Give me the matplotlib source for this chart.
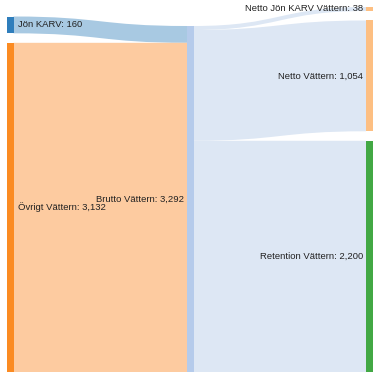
import matplotlib
matplotlib.use("Agg")
import matplotlib.pyplot as plt
from matplotlib.path import Path
from matplotlib.patches import PathPatch, Rectangle

plt.rcParams['font.family'] = ['Liberation Sans', 'DejaVu Sans']

# nodes per column
left_nodes = ["Jön KARV", "Övrigt Vättern"]
mid_nodes = ["Brutto Vättern"]
right_nodes = ["Netto Jön KARV Vättern", "Netto Vättern", "Retention Vättern"]

# flows (source, target, value)
link_src = ["Jön KARV", "Övrigt Vättern", "Brutto Vättern", "Brutto Vättern", "Brutto Vättern"]
link_dst = ["Brutto Vättern", "Brutto Vättern", "Netto Jön KARV Vättern", "Netto Vättern", "Retention Vättern"]
link_val = [160, 3132, 38, 1054, 2200]

node_color = {
    "Jön KARV": "#2f7ebc",
    "Övrigt Vättern": "#fb8b22",
    "Brutto Vättern": "#b5cbeb",
    "Netto Jön KARV Vättern": "#fdbf82",
    "Netto Vättern": "#fdbf82",
    "Retention Vättern": "#42a844",
}
link_color = {
    "Jön KARV": "#a8c9e2",
    "Övrigt Vättern": "#fdcba0",
    "Brutto Vättern": "#dde7f4",
}

W = H = 380
fig = plt.figure(figsize=(3.8, 3.8), dpi=100)
ax = fig.add_axes([0, 0, 1, 1])
ax.set_xlim(0, W)
ax.set_ylim(H, 0)
ax.axis("off")

# node values = max(in, out)
vin, vout = {}, {}
for s, d, v in zip(link_src, link_dst, link_val):
    vout[s] = vout.get(s, 0) + v
    vin[d] = vin.get(d, 0) + v
def nval(n):
    return max(vin.get(n, 0), vout.get(n, 0))

bottom = 372
k = 346 / nval("Brutto Vättern")
gap = 9.5
nw = 6.5
cols = [(left_nodes, 7), (mid_nodes, 187), (right_nodes, 366)]

pos = {}
for nodes, x in cols:
    total = sum(nval(n) for n in nodes) * k + gap * (len(nodes) - 1)
    y = bottom - total
    for n in nodes:
        h = nval(n) * k
        pos[n] = (x, y, h)
        y += h + gap

# links
out_off = {n: 0.0 for n in pos}
in_off = {n: 0.0 for n in pos}
for s, d, v in zip(link_src, link_dst, link_val):
    sx, sy, _ = pos[s]
    dx, dy, _ = pos[d]
    h = v * k
    x0 = sx + nw
    x1 = dx
    y0 = sy + out_off[s]
    y1 = dy + in_off[d]
    out_off[s] += h
    in_off[d] += h
    xm = (x0 + x1) / 2
    verts = [(x0, y0), (xm, y0), (xm, y1), (x1, y1),
             (x1, y1 + h), (xm, y1 + h), (xm, y0 + h), (x0, y0 + h), (x0, y0)]
    codes = [Path.MOVETO, Path.CURVE4, Path.CURVE4, Path.CURVE4,
             Path.LINETO, Path.CURVE4, Path.CURVE4, Path.CURVE4, Path.CLOSEPOLY]
    ax.add_patch(PathPatch(Path(verts, codes), facecolor=link_color[s],
                           edgecolor="none", lw=0))

# nodes and labels
for n, (x, y, h) in pos.items():
    ax.add_patch(Rectangle((x, y), nw, h, facecolor=node_color[n], edgecolor="none"))
    label = f"{n}: {nval(n):,}"
    if n in left_nodes:
        ax.text(x + nw + 4, y + h / 2, label, ha="left", va="center",
                fontsize=6.8, color="#222222")
    else:
        ax.text(x - 3, y + h / 2, label, ha="right", va="center",
                fontsize=6.8, color="#222222")

fig.savefig("out.png", dpi=100)
